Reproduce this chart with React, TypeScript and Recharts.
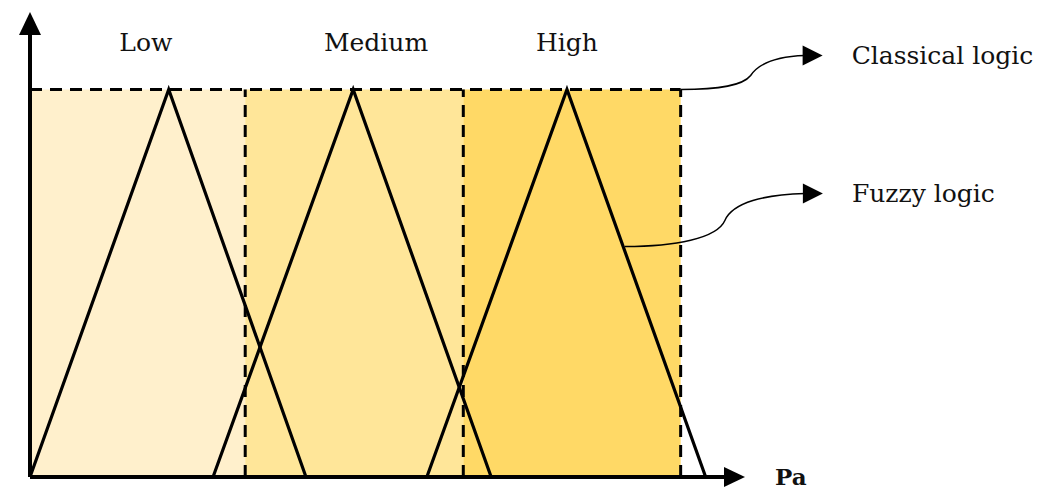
import React from "react";
import {
  ComposedChart,
  Line,
  Scatter,
  XAxis,
  YAxis,
  ReferenceArea,
  ReferenceLine,
} from "recharts";

// Pa axis runs 0..100, membership axis 0..1.2 (arrow tip above 1).
const CLASS_LABELS = ["Low", "Medium", "High"];
const CLASS_EDGES = [0, 30.1, 60.6, 91];
const CLASS_FILLS = ["#FFF0CC", "#FFE699", "#FFD966"];

const LOW_TRI = [
  { x: 0, y: 0 },
  { x: 19.4, y: 1 },
  { x: 38.6, y: 0 },
];
const MEDIUM_TRI = [
  { x: 25.6, y: 0 },
  { x: 45.2, y: 1 },
  { x: 64.5, y: 0 },
];
const HIGH_TRI = [
  { x: 55.5, y: 0 },
  { x: 75.1, y: 1 },
  { x: 94.5, y: 0 },
];

const LABEL_POINTS = [
  { x: 16.2, y: 1.115, text: "Low" },
  { x: 48.4, y: 1.115, text: "Medium" },
  { x: 75.1, y: 1.115, text: "High" },
];

// anchor of each callout: top-right corner of the crisp boxes, and a
// point on the falling edge of the "High" triangle
const CALLOUTS = [
  { x: 91, y: 1, text: "Classical logic", kind: "classical" },
  { x: 83.2, y: 0.595, text: "Fuzzy logic", kind: "fuzzy" },
];

const AXIS_TIPS = [
  { x: 100, y: 0, dir: "right" },
  { x: 0, y: 1.2, dir: "up" },
];

const FONT = "'DejaVu Serif', 'Liberation Serif', serif";

function LabelShape(props: any) {
  const { cx, cy, payload } = props;
  return (
    <text
      x={cx}
      y={cy}
      textAnchor="middle"
      dominantBaseline="middle"
      fontFamily={FONT}
      fontSize={25}
      fill="#111"
    >
      {payload.text}
    </text>
  );
}

function ArrowTip(props: any) {
  const { cx, cy, payload } = props;
  const pts =
    payload.dir === "right"
      ? `${cx},${cy} ${cx - 21},${cy - 10} ${cx - 21},${cy + 10}`
      : `${cx},${cy} ${cx - 11},${cy + 23} ${cx + 11},${cy + 23}`;
  return (
    <g>
      <polygon points={pts} fill="#000" />
      {payload.dir === "right" && (
        <text
          x={cx + 30}
          y={cy + 8}
          fontFamily={FONT}
          fontWeight="bold"
          fontSize={23}
          fill="#111"
        >
          Pa
        </text>
      )}
    </g>
  );
}

function Callout(props: any) {
  const { cx, cy, payload } = props;
  const d =
    payload.kind === "classical"
      ? `M${cx},${cy} C${cx + 40},${cy} ${cx + 62},${cy - 4} ${cx + 70},${cy - 14} C${cx + 78},${cy - 26} ${cx + 95},${cy - 33} ${cx + 124},${cy - 34}`
      : `M${cx},${cy} C${cx + 50},${cy} ${cx + 92},${cy - 8} ${cx + 100},${cy - 26} C${cx + 108},${cy - 44} ${cx + 140},${cy - 52} ${cx + 180},${cy - 53}`;
  const ex = payload.kind === "classical" ? cx + 122 : cx + 178;
  const ey = payload.kind === "classical" ? cy - 34 : cy - 53;
  return (
    <g>
      <path d={d} fill="none" stroke="#000" strokeWidth={1.5} />
      <polygon
        points={`${ex + 20},${ey} ${ex},${ey - 10} ${ex},${ey + 10}`}
        fill="#000"
      />
      <text
        x={ex + 49}
        y={ey + 2}
        dominantBaseline="middle"
        fontFamily={FONT}
        fontSize={25}
        fill="#111"
      >
        {payload.text}
      </text>
    </g>
  );
}

export default function App() {
  return (
    <div style={{ position: "absolute", left: 0, top: 0, background: "#fff" }}>
      <ComposedChart
        width={1049}
        height={491}
        margin={{ top: 12, right: 304, bottom: 14, left: 30 }}
      >
        <XAxis
          dataKey="x"
          type="number"
          domain={[0, 100]}
          hide
          allowDuplicatedCategory={false}
        />
        <YAxis type="number" domain={[0, 1.2]} hide />

        {CLASS_FILLS.map((fill, i) => (
          <ReferenceArea
            key={CLASS_LABELS[i]}
            x1={CLASS_EDGES[i]}
            x2={CLASS_EDGES[i + 1]}
            y1={0}
            y2={1}
            fill={fill}
            fillOpacity={1}
            stroke="none"
          />
        ))}

        <ReferenceLine
          segment={[
            { x: 0, y: 1 },
            { x: CLASS_EDGES[3], y: 1 },
          ]}
          stroke="#000"
          strokeWidth={3}
          strokeDasharray="12 8"
        />
        {CLASS_EDGES.slice(1).map((e) => (
          <ReferenceLine
            key={e}
            segment={[
              { x: e, y: 0 },
              { x: e, y: 1 },
            ]}
            stroke="#000"
            strokeWidth={3}
            strokeDasharray="12 8"
          />
        ))}

        {[LOW_TRI, MEDIUM_TRI, HIGH_TRI].map((tri, i) => (
          <Line
            key={CLASS_LABELS[i]}
            data={tri}
            dataKey="y"
            type="linear"
            stroke="#000"
            strokeWidth={3.2}
            dot={false}
            activeDot={false}
            isAnimationActive={false}
          />
        ))}

        <ReferenceLine
          segment={[
            { x: 0, y: 0 },
            { x: 98, y: 0 },
          ]}
          stroke="#000"
          strokeWidth={4}
        />
        <ReferenceLine
          segment={[
            { x: 0, y: 0 },
            { x: 0, y: 1.15 },
          ]}
          stroke="#000"
          strokeWidth={4}
        />

        <Scatter data={AXIS_TIPS} dataKey="y" shape={ArrowTip} isAnimationActive={false} />
        <Scatter data={LABEL_POINTS} dataKey="y" shape={LabelShape} isAnimationActive={false} />
        <Scatter data={CALLOUTS} dataKey="y" shape={Callout} isAnimationActive={false} />
      </ComposedChart>
    </div>
  );
}
